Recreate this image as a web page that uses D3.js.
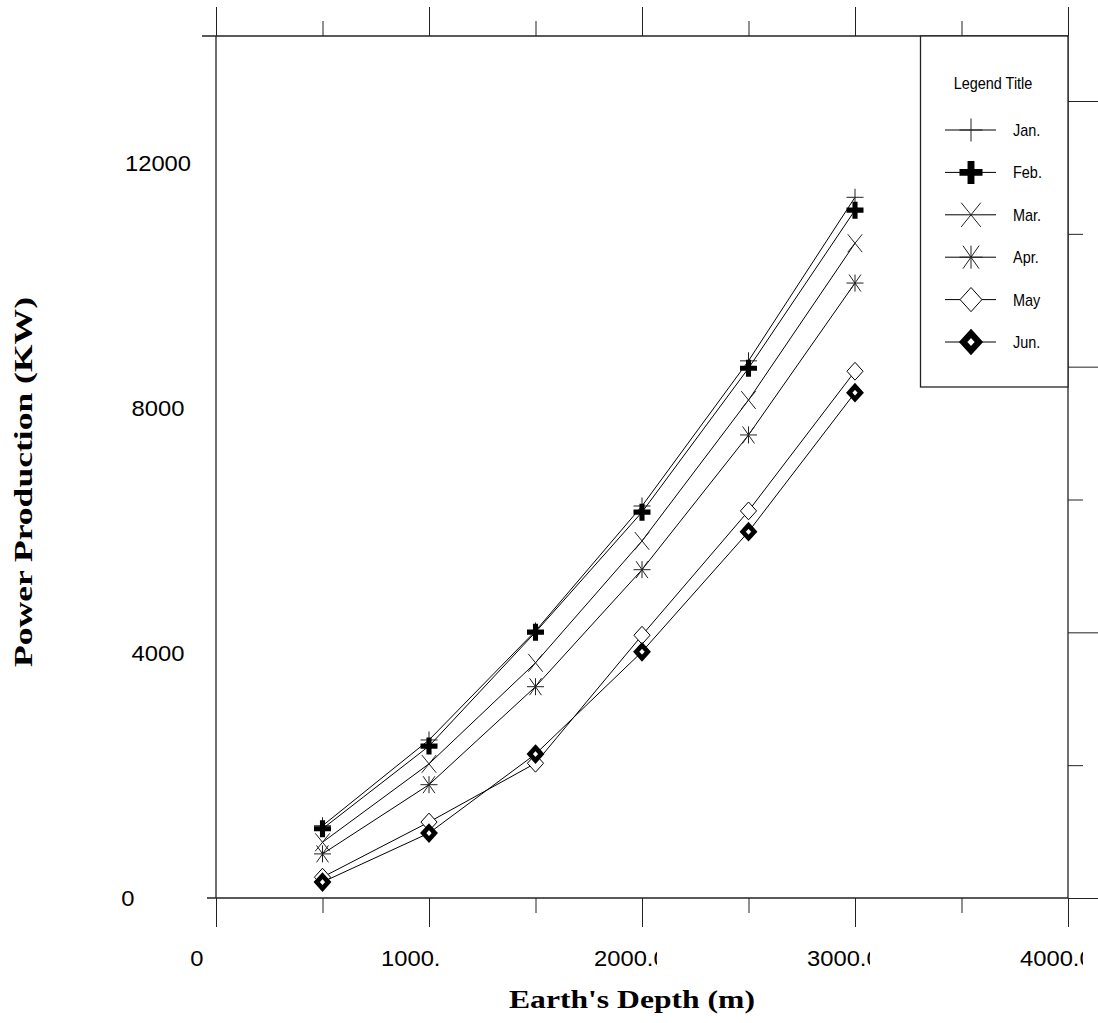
<!DOCTYPE html>
<html lang="en">
<head>
  <meta charset="UTF-8" />
  <title>Power Production vs Earth's Depth</title>
  <script src="https://d3js.org/d3.v7.min.js"></script>
  <style>
    * { margin: 0; padding: 0; }
    body { background: #fff; }
    svg { display: block; }
    .sans { font-family: 'Liberation Sans', Arial, sans-serif; }
    .serif { font-family: 'Liberation Serif', 'Times New Roman', serif; font-weight: bold; }
  </style>
</head>
<body>
  <svg id="chart" width="1098" height="1023"></svg>

  <script>
    // ---- data ----
    const depth = [500, 1000, 1500, 2000, 2500, 3000];
    const jan = [1180, 2580, 4360, 6400, 8770, 11440];
    const feb = [1130, 2480, 4340, 6300, 8650, 11230];
    const mar = [910, 2190, 3840, 5830, 8130, 10690];
    const apr = [720, 1850, 3450, 5360, 7560, 10040];
    const may = [340, 1240, 2200, 4290, 6320, 8600];
    const jun = [260, 1060, 2350, 4020, 5980, 8250];
    const months = ['Jan.', 'Feb.', 'Mar.', 'Apr.', 'May', 'Jun.'];
    const markers = ['plus', 'boldPlus', 'cross', 'asterisk', 'diamond', 'boldDiamond'];
    const legendTitle = 'Legend Title';

    const xTicks = [0, 1000, 2000, 3000, 4000];
    const xMinor = [500, 1500, 2500, 3500];
    const xTickLabels = ['0', '1000.', '2000.0', '3000.0', '4000.0'];
    const yTicks = [0, 4000, 8000, 12000];
    const yTickLabels = ['0', '4000', '8000', '12000'];
    const rightMajor = [0, 2, 4, 6];
    const rightMinor = [1, 3, 5];
    const xTitle = "Earth's Depth (m)";
    const yTitle = 'Power Production (KW)';

    const series = [jan, feb, mar, apr, may, jun];

    const svg = d3.select('#chart');
    const ink = '#222';

    const x = d3.scaleLinear().domain([0, 4000]).range([216, 1068]);
    const y = d3.scaleLinear().domain([0, 12000]).range([898, 163]);
    const plotTop = 36;
    const yMax = y.invert(plotTop);
    const r = d3.scaleLinear().domain([0, 6]).range([898, 101]);

    // stretch text horizontally, like the old plotting package did
    function stretch(sel, f) {
      sel.each(function () {
        const w = this.getComputedTextLength();
        d3.select(this).attr('textLength', w * f).attr('lengthAdjust', 'spacingAndGlyphs');
      });
    }

    // ---- frame ----
    const frame = svg.append('g').attr('stroke', ink).attr('stroke-width', 1.3).attr('fill', 'none');
    frame.append('line').attr('x1', 202).attr('x2', x(4000)).attr('y1', y(yMax)).attr('y2', y(yMax));
    frame.append('line').attr('x1', 207).attr('x2', x(4000)).attr('y1', y(0)).attr('y2', y(0));
    frame.append('line').attr('x1', x(0)).attr('x2', x(0)).attr('y1', y(0)).attr('y2', y(yMax));
    frame.append('line').attr('x1', x(4000)).attr('x2', x(4000)).attr('y1', y(0)).attr('y2', y(yMax));

    function axisG(axis, tx, ty) {
      const g = svg.append('g').attr('transform', `translate(${tx},${ty})`).call(axis);
      g.select('.domain').remove();
      g.selectAll('.tick line').attr('stroke', ink).attr('stroke-width', 1);
      g.selectAll('.tick text').remove();
      return g;
    }

    axisG(d3.axisBottom(x).tickValues(xTicks).tickSize(29), 0, y(0));
    axisG(d3.axisBottom(x).tickValues(xMinor).tickSize(15), 0, y(0));
    axisG(d3.axisTop(x).tickValues(xTicks).tickSize(29), 0, y(yMax));
    axisG(d3.axisTop(x).tickValues(xMinor).tickSize(15), 0, y(yMax));
    axisG(d3.axisRight(r).tickValues(rightMajor).tickSize(30), x(4000), 0);
    axisG(d3.axisRight(r).tickValues(rightMinor).tickSize(15), x(4000), 0);

    // ---- tick labels (clipped, as in the original output) ----
    const defs = svg.append('defs');
    xTicks.forEach((v, i) => {
      defs.append('clipPath').attr('id', 'xc' + i)
        .append('rect').attr('x', x(v) - 50).attr('y', 930).attr('width', 65).attr('height', 50);
    });
    svg.append('g').selectAll('text').data(xTicks).join('text')
      .attr('class', 'sans')
      .attr('font-size', 22)
      .attr('x', d => d === 0 ? x(d) - 19 : x(d) - 48)
      .attr('y', 966)
      .attr('text-anchor', d => d === 0 ? 'middle' : 'start')
      .attr('clip-path', (d, i) => `url(#xc${i})`)
      .text((d, i) => xTickLabels[i])
      .call(stretch, 1.08);

    svg.append('g').selectAll('text').data(yTicks).join('text')
      .attr('class', 'sans')
      .attr('font-size', 22)
      .attr('x', d => d === 0 ? 128 : 158)
      .attr('y', d => y(d) + 8)
      .attr('text-anchor', 'middle')
      .text((d, i) => yTickLabels[i])
      .call(stretch, 1.08);

    // ---- titles ----
    svg.append('text').attr('class', 'serif')
      .attr('font-size', 26)
      .attr('x', 632).attr('y', 1008)
      .attr('text-anchor', 'middle')
      .attr('textLength', 246).attr('lengthAdjust', 'spacingAndGlyphs')
      .text(xTitle);

    svg.append('text').attr('class', 'serif')
      .attr('font-size', 26)
      .attr('transform', 'translate(32,482) rotate(-90)')
      .attr('text-anchor', 'middle')
      .attr('textLength', 370).attr('lengthAdjust', 'spacingAndGlyphs')
      .text(yTitle);

    // ---- markers ----
    function drawMarker(g, type, s) {
      if (type === 'plus') {
        g.append('path').attr('d', `M${-s},0H${s}M0,${-s}V${s}`)
          .attr('stroke', ink).attr('stroke-width', 1).attr('fill', 'none');
      } else if (type === 'boldPlus') {
        g.append('path').attr('d', `M${-s},0H${s}M0,${-s}V${s}`)
          .attr('stroke', '#000').attr('stroke-width', s * 0.6).attr('fill', 'none');
      } else if (type === 'cross') {
        const a = s * 0.85, b = s * 1.05;
        g.append('path').attr('d', `M${-a},${-b}L${a},${b}M${-a},${b}L${a},${-b}`)
          .attr('stroke', ink).attr('stroke-width', 1).attr('fill', 'none');
      } else if (type === 'asterisk') {
        const a = s * 0.7, b = s;
        g.append('path').attr('d', `M${-a},${-b}L${a},${b}M${-a},${b}L${a},${-b}M0,${-b}V${b}M${-s},0H${s}`)
          .attr('stroke', ink).attr('stroke-width', 1).attr('fill', 'none');
      } else if (type === 'diamond') {
        const a = s * 0.95, b = s * 1.05;
        g.append('path').attr('d', `M0,${-b}L${a},0L0,${b}L${-a},0Z`)
          .attr('stroke', '#000').attr('stroke-width', 1).attr('fill', '#fff');
      } else if (type === 'boldDiamond') {
        const a = s * 0.68, b = s * 0.75;
        g.append('path').attr('d', `M0,${-b}L${a},0L0,${b}L${-a},0Z`)
          .attr('stroke', '#000').attr('stroke-width', s * 0.55).attr('fill', '#fff');
      }
    }

    const line = d3.line().x((d, i) => x(depth[i])).y(d => y(d));
    const plot = svg.append('g');
    series.forEach((vals, k) => {
      plot.append('path').datum(vals)
        .attr('d', line)
        .attr('fill', 'none')
        .attr('stroke', '#000')
        .attr('stroke-width', 1);
      vals.forEach((v, i) => {
        const g = plot.append('g').attr('transform', `translate(${x(depth[i])},${y(v)})`);
        drawMarker(g, markers[k], 8.5);
      });
    });

    // ---- legend ----
    const lg = svg.append('g');
    lg.append('rect')
      .attr('x', 920.5).attr('y', y(yMax))
      .attr('width', x(4000) - 920.5).attr('height', 387 - y(yMax))
      .attr('fill', '#fff').attr('stroke', ink).attr('stroke-width', 1.3);
    lg.append('text').attr('class', 'sans')
      .attr('font-size', 17).attr('x', 993).attr('y', 89)
      .attr('text-anchor', 'middle')
      .text(legendTitle)
      .call(stretch, 0.85);
    months.forEach((m, k) => {
      const ly = 130 + k * 42.4;
      lg.append('line').attr('x1', 945).attr('x2', 996).attr('y1', ly).attr('y2', ly)
        .attr('stroke', '#000').attr('stroke-width', 1);
      drawMarker(lg.append('g').attr('transform', `translate(971,${ly})`), markers[k], 11.5);
      lg.append('text').attr('class', 'sans')
        .attr('font-size', 17).attr('x', 1013).attr('y', ly + 6)
        .text(m)
        .call(stretch, 0.85);
    });
  </script>
</body>
</html>
